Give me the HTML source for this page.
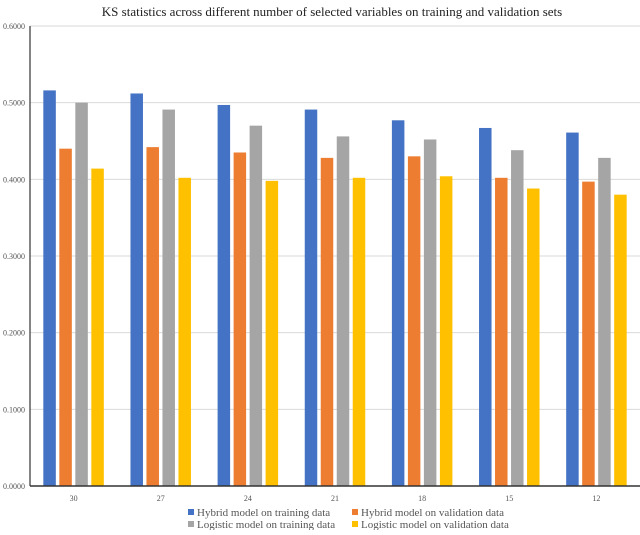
<!DOCTYPE html>
<html><head><meta charset="utf-8"><style>
body{margin:0;background:#fff;}
svg text{font-family:"Liberation Serif",serif;}
</style></head><body>
<svg id="c" width="640" height="530">
<text x="332" y="16" text-anchor="middle" font-size="13" fill="#222">KS statistics across different number of selected variables on training and validation sets</text>
<g id="grid"></g><g id="bars"></g><g id="axes"></g><g id="legend"></g>
</svg>
<script>
const categories=["30","27","24","21","18","15","12"];
const hybridTrain=[0.516,0.512,0.497,0.491,0.477,0.467,0.461];
const hybridVal=[0.440,0.442,0.435,0.428,0.430,0.402,0.397];
const logisticTrain=[0.500,0.491,0.470,0.456,0.452,0.438,0.428];
const logisticVal=[0.414,0.402,0.398,0.402,0.404,0.388,0.380];
const yTicks=[0,0.1,0.2,0.3,0.4,0.5,0.6];
const seriesNames=["Hybrid model on training data","Hybrid model on validation data","Logistic model on training data","Logistic model on validation data"];
const colors=["#4472C4","#ED7D31","#A5A5A5","#FFC000"];
const NS="http://www.w3.org/2000/svg";
const x0=30,x1=640,y0=486,yTop=26;
const y=v=>y0-(v/0.6)*(y0-yTop);
const band=(x1-x0)/categories.length;
const xc=i=>x0+band*(i+0.5);
function mk(t,a,p){const e=document.createElementNS(NS,t);for(const k in a)e.setAttribute(k,a[k]);p.appendChild(e);return e;}
const grid=document.getElementById('grid'),axes=document.getElementById('axes'),bars=document.getElementById('bars'),leg=document.getElementById('legend');
yTicks.forEach(t=>{
 const l=mk('line',{x1:x0,x2:x1,y1:y(t),y2:y(t),stroke:'#d9d9d9','stroke-width':1},grid);
 
 
 const tx=mk('text',{x:25,y:y(t)+3,'text-anchor':'end','font-size':8,fill:'#555','font-family':'Liberation Sans, sans-serif'},axes);
 tx.textContent=t.toFixed(4);
 
 
});
const ya=mk('line',{x1:x0,x2:x0,y1:yTop,y2:y0,stroke:'#333','stroke-width':1.2},axes);


const xa=mk('line',{x1:x0,x2:x1,y1:y0,y2:y0,stroke:'#333','stroke-width':1.5},axes);


const series=[hybridTrain,hybridVal,logisticTrain,logisticVal];
const bw=12.5,step=16;
categories.forEach((c,i)=>{
 series.forEach((s,j)=>{
  const bx=xc(i)-2*step+j*step+(step-bw)/2;
  const r=mk('rect',{x:bx,y:y(s[i]),width:bw,height:y0-y(s[i]),fill:colors[j]},bars);
  
  
 });
 const t=mk('text',{x:xc(i),y:501,'text-anchor':'middle','font-size':8,fill:'#555','font-family':'Liberation Sans, sans-serif'},axes);
 t.textContent=c;
 
 
});
const lx=[188,352],ly=[516,528];
seriesNames.forEach((n,j)=>{
 const gx=lx[j%2],gy=ly[Math.floor(j/2)];
 const r=mk('rect',{x:gx,y:gy-7,width:6,height:6,fill:colors[j]},leg);
 
 
 const t=mk('text',{x:gx+9,y:gy,'font-size':11,fill:'#555'},leg);
 t.textContent=n;
 
 
});
</script>
</body></html>
